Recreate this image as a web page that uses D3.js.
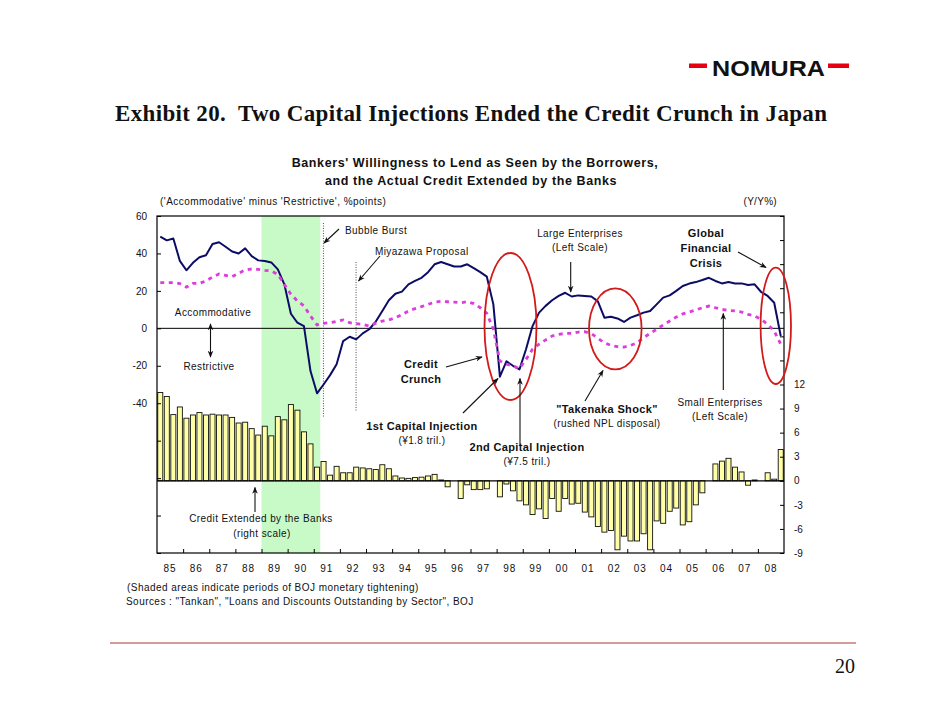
<!DOCTYPE html>
<html>
<head>
<meta charset="utf-8">
<script src="https://cdn.jsdelivr.net/npm/d3@7"></script>
<style>
  body { margin: 0; background: #fff; }
  svg text { font-family: 'Liberation Sans', Arial, sans-serif; fill: #111; }
  .serif { font-family: 'Liberation Serif', 'Times New Roman', serif !important; }
</style>
</head>
<body>
<svg id="chart" width="942" height="728"></svg>
<script>
const width = 942
const height = 728

// tick labels
const yearLabels = ['85', '86', '87', '88', '89', '90', '91', '92', '93', '94', '95', '96',
  '97', '98', '99', '00', '01', '02', '03', '04', '05', '06', '07', '08']
const leftTicks = [60, 40, 20, 0, -20, -40, -60, -80, -100, -120]
const rightTicks = [33, 30, 27, 24, 21, 18, 15, 12, 9, 6, 3, 0, -3, -6, -9]

// quarterly, 1985Q1 .. 2008Q4
// credit extended by the banks, Y/Y % (right scale)
const credit = [
  11.0, 10.5, 8.25, 9.2,   7.8, 8.2, 8.5, 8.2,   8.3, 8.2, 8.2, 7.9,
  7.2, 7.3, 6.5, 5.7,      6.8, 5.6, 8.0, 7.6,   9.5, 8.8, 6.1, 4.6,
  1.7, 2.4, 0.7, 1.8,      1.0, 1.0, 1.7, 1.6,   1.5, 1.4, 2.0, 1.5,
  0.6, 0.35, 0.3, 0.4,     0.45, 0.6, 0.8, 0.1,  -0.75, 0.0, -2.2, -0.5,
  -1.1, -1.1, -1.0, 0.0,   -2.0, -0.4, -1.25, -2.5,  -3.0, -4.2, -3.5, -4.7,
  -2.2, -3.8, -2.2, -2.9,  -2.8, -3.9, -4.5, -5.7,   -6.4, -6.2, -8.6, -6.9,
  -7.5, -7.5, -6.6, -8.6,  -5.0, -5.3, -3.8, -3.4,   -5.5, -5.1, -3.0, -1.5,
  0.0, 2.1, 2.45, 2.8,     1.7, 1.1, -0.55, 0.1,     0.0, 1.0, 0.2, 3.9
]
// lending attitude DI, large enterprises (left scale)
const large = [
  49, 47, 48, 36,        31, 35, 38, 39,        45, 46, 43.6, 41,
  40, 42.7, 38.6, 36.3,  36, 35.2, 31.5, 23.5,  7.8, 3, 1.2, -22.8,
  -34.7, -30, -25, -19.2, -6.8, -4.5, -5.9, -2.7, -0.5, 3.6, 9.3, 15,
  18.5, 19.6, 23.5, 25.3, 27, 30, 34.2, 35.4,  34.2, 33, 33, 34.2,
  32.2, 30, 27.6, 12.8,  -25.8, -17.6, -20, -21.9, -11.2, 1.2, 8.4, 12,
  15, 17.3, 19, 17,      17.6, 17.3, 17, 14.4,  5.7, 6.2, 5.3, 3.4,
  5.7, 7, 8.4, 9.3,      12.8, 16.4, 17.6, 20,  22.6, 23.9, 24.7, 25.8,
  27, 25.3, 24, 24.7,    24, 24, 23.1, 23.5,    19.4, 17.3, 13.7, -4.1
]
// lending attitude DI, small enterprises (left scale)
const small = [
  24.4, 24.4, 24.4, 23.9, 22, 24, 24, 25.3,     27.4, 29, 28.3, 27.6,
  29.4, 31.2, 31.7, 31.5, 31, 30.6, 28.8, 23.5, 18.2, 14.6, 12, 6.6,
  1.8, 2.7, 3, 3.7,       4.5, 3, 2.5, 2.1,     1.2, 2.7, 3.9, 4.5,
  5.7, 7.3, 9.3, 10.5,    11.6, 12.8, 14, 14.4, 14.2, 14, 13.7, 14.2,
  13.2, 11, 8, -0.5,      -17.4, -19.2, -20, -21.5, -16.6, -11.2, -8.5, -6.2,
  -4.1, -3.2, -2.7, -2.7, -2, -1.8, -2.8, -5.3, -7.7, -9.1, -9.8, -10,
  -9.1, -7.7, -5, -2.7,   -0.5, 1.8, 3.9, 6,    7.7, 8.7, 9.8, 11,
  11.9, 11, 10.1, 9.6,    9.3, 8.7, 7.5, 6.6,   4.8, 2.1, -1.4, -8.5
]
// BOJ tightening periods (years)
const tightening = [[1989.0, 1991.25]]
// event lines (years)
const events = [1991.37, 1992.62]

const plot = { left: 157, right: 784, top: 216, bottom: 553 }

const x = d3.scaleLinear().domain([1985, 2009]).range([plot.left, plot.right])
const yL = d3.scaleLinear().domain([-120, 60]).range([plot.bottom, plot.top])
const yR = d3.scaleLinear().domain([-9, 33]).range([plot.bottom, plot.top])
const qx = i => x(1985 + (i + 0.5) / 4)
const barW = (x(1985.25) - x(1985)) * 0.77

const svg = d3.select('#chart').attr('width', width).attr('height', height)

const defs = svg.append('defs')
defs.append('marker')
  .attr('id', 'arrow')
  .attr('viewBox', '0 0 10 10')
  .attr('refX', 9).attr('refY', 5)
  .attr('markerWidth', 7).attr('markerHeight', 7)
  .attr('markerUnits', 'userSpaceOnUse')
  .attr('orient', 'auto')
  .append('path')
  .attr('d', 'M0,1 L10,5 L0,9 L3,5 z')
  .attr('fill', '#111')

// header
svg.append('rect').attr('x', 689).attr('y', 63.5).attr('width', 18).attr('height', 4.5).attr('fill', '#e60012')
svg.append('rect').attr('x', 828).attr('y', 63.5).attr('width', 21).attr('height', 4.5).attr('fill', '#e60012')
svg.append('text')
  .attr('x', 712).attr('y', 76)
  .attr('textLength', 113).attr('lengthAdjust', 'spacingAndGlyphs')
  .style('font-size', '22px').style('font-weight', 'bold')
  .text('NOMURA')

svg.append('text')
  .attr('class', 'serif')
  .attr('x', 115).attr('y', 121)
  .attr('textLength', 712).attr('lengthAdjust', 'spacing')
  .style('font-size', '23px').style('font-weight', 'bold').style('white-space', 'pre')
  .text('Exhibit 20.  Two Capital Injections Ended the Credit Crunch in Japan')

svg.append('text')
  .attr('x', 475).attr('y', 167).attr('text-anchor', 'middle')
  .style('font-size', '12.5px').style('font-weight', 'bold').style('letter-spacing', '0.6px')
  .text("Bankers' Willingness to Lend as Seen by the Borrowers,")
svg.append('text')
  .attr('x', 471).attr('y', 185).attr('text-anchor', 'middle')
  .style('font-size', '12.5px').style('font-weight', 'bold').style('letter-spacing', '0.6px')
  .text('and the Actual Credit Extended by the Banks')

svg.append('text')
  .attr('x', 160).attr('y', 205)
  .style('font-size', '10px').style('letter-spacing', '0.45px')
  .text("('Accommodative' minus 'Restrictive', %points)")
svg.append('text')
  .attr('x', 777).attr('y', 205).attr('text-anchor', 'end')
  .style('font-size', '10px').style('letter-spacing', '0.3px')
  .text('(Y/Y%)')

// shaded tightening
svg.append('g').selectAll('rect')
  .data(tightening)
  .enter().append('rect')
  .attr('x', d => x(d[0]))
  .attr('width', d => x(d[1]) - x(d[0]))
  .attr('y', plot.top)
  .attr('height', plot.bottom - plot.top)
  .attr('fill', '#c8fac8')

// bars
svg.append('g').selectAll('rect')
  .data(credit)
  .enter().append('rect')
  .attr('x', (d, i) => qx(i) - barW / 2)
  .attr('width', barW)
  .attr('y', d => Math.min(yR(d), yR(0)))
  .attr('height', d => Math.abs(yR(d) - yR(0)))
  .attr('fill', '#ffffa6')
  .attr('stroke', '#111')
  .attr('stroke-width', 0.9)

// zero lines
svg.append('line')
  .attr('x1', plot.left).attr('x2', plot.right)
  .attr('y1', yL(0)).attr('y2', yL(0))
  .attr('stroke', '#000').attr('stroke-width', 1)
svg.append('line')
  .attr('x1', plot.left).attr('x2', plot.right)
  .attr('y1', yR(0)).attr('y2', yR(0))
  .attr('stroke', '#000').attr('stroke-width', 1.2)

// event lines
const eventTops = [223, 262]
const eventBottoms = [417, 411]
svg.append('g').selectAll('line')
  .data(events)
  .enter().append('line')
  .attr('x1', d => x(d)).attr('x2', d => x(d))
  .attr('y1', (d, i) => eventTops[i]).attr('y2', (d, i) => eventBottoms[i])
  .attr('stroke', '#222').attr('stroke-width', 0.8)
  .attr('stroke-dasharray', '1,1.5')

// lines
const line = d3.line().x((d, i) => qx(i)).y(d => yL(d))
svg.append('path')
  .datum(large)
  .attr('d', line)
  .attr('fill', 'none')
  .attr('stroke', '#0c0c66')
  .attr('stroke-width', 2)
  .attr('stroke-linejoin', 'round')
svg.append('path')
  .datum(small)
  .attr('d', line)
  .attr('fill', 'none')
  .attr('stroke', '#dd3ddd')
  .attr('stroke-width', 2.8)
  .attr('stroke-dasharray', '4,4.5')

// frame
svg.append('rect')
  .attr('x', plot.left).attr('y', plot.top)
  .attr('width', plot.right - plot.left).attr('height', plot.bottom - plot.top)
  .attr('fill', 'none').attr('stroke', '#000').attr('stroke-width', 1.2)

// axes
const leftAxis = svg.append('g')
  .attr('transform', `translate(${plot.left},0)`)
  .call(d3.axisLeft(yL).tickValues(leftTicks).tickSize(-4).tickPadding(10)
    .tickFormat(d => d >= -40 ? d : ''))
const rightAxis = svg.append('g')
  .attr('transform', `translate(${plot.right},0)`)
  .call(d3.axisRight(yR).tickValues(rightTicks).tickSize(-4).tickPadding(10)
    .tickFormat(d => d <= 12 ? d : ''))
const bottomAxis = svg.append('g')
  .attr('transform', `translate(0,${plot.bottom})`)
  .call(d3.axisBottom(x).tickValues(d3.range(1986, 2009)).tickSize(-4).tickFormat(''))

;[leftAxis, rightAxis, bottomAxis].forEach(g => {
  g.select('.domain').remove()
  g.selectAll('line').attr('stroke', '#000')
  g.selectAll('text')
    .style('font-family', "'Liberation Sans', Arial, sans-serif")
    .style('font-size', '10px').attr('fill', '#111')
})

svg.append('g').selectAll('text')
  .data(yearLabels)
  .enter().append('text')
  .attr('x', (d, i) => x(1985.5 + i))
  .attr('y', 572)
  .attr('text-anchor', 'middle')
  .style('font-size', '10px').style('letter-spacing', '1px')
  .text(d => d)

// circled episodes
const circles = [
  { cx: 510.5, cy: 326.5, rx: 26, ry: 73.5 },
  { cx: 615.3, cy: 328.8, rx: 26.3, ry: 40.5 },
  { cx: 775.8, cy: 325.8, rx: 15.2, ry: 58.2 }
]
svg.append('g').selectAll('ellipse')
  .data(circles)
  .enter().append('ellipse')
  .attr('cx', d => d.cx).attr('cy', d => d.cy)
  .attr('rx', d => d.rx).attr('ry', d => d.ry)
  .attr('fill', 'none').attr('stroke', '#d21a1a').attr('stroke-width', 1.8)

// annotations
const ann = svg.append('g').attr('class', 'annotations')

function note(tx, ty, str, opts = {}) {
  ann.append('text')
    .attr('x', tx).attr('y', ty)
    .attr('text-anchor', opts.anchor || 'middle')
    .style('font-size', opts.bold ? '11px' : '10px')
    .style('font-weight', opts.bold ? 'bold' : 'normal')
    .style('letter-spacing', opts.bold ? '0.35px' : '0.4px')
    .text(str)
}

function arrow(x1, y1, x2, y2) {
  ann.append('line')
    .attr('x1', x1).attr('y1', y1).attr('x2', x2).attr('y2', y2)
    .attr('stroke', '#111').attr('stroke-width', 1.1)
    .attr('marker-end', 'url(#arrow)')
}

note(345, 234, 'Bubble Burst', { anchor: 'start' })
arrow(339, 229, 324, 243)
note(375, 255, 'Miyazawa Proposal', { anchor: 'start' })
arrow(380, 256, 358.5, 281)

note(213, 316, 'Accommodative')
arrow(210.5, 340, 210.5, 324)
arrow(210.5, 340, 210.5, 357)
note(209, 370, 'Restrictive')

note(421, 368, 'Credit', { bold: true })
note(421, 383, 'Crunch', { bold: true })
arrow(446, 367, 482, 357)

note(422, 430, '1st Capital Injection', { bold: true })
note(422, 444, '(\u00a51.8 tril.)')
arrow(463, 413, 498, 378.5)

note(527, 451, '2nd Capital Injection', { bold: true })
note(527, 465, '(\u00a57.5 tril.)')
arrow(520, 445, 520, 378.5)

note(607, 413, '"Takenaka Shock"', { bold: true })
note(607, 427, '(rushed NPL disposal)')
arrow(585, 401, 603, 370.5)

note(580, 237, 'Large Enterprises')
note(580, 251, '(Left Scale)')
arrow(570.7, 262, 570.7, 292)

note(706, 237, 'Global', { bold: true })
note(706, 252, 'Financial', { bold: true })
note(706, 267, 'Crisis', { bold: true })
arrow(738, 252, 766, 267.5)

note(720, 406, 'Small Enterprises')
note(720, 420, '(Left Scale)')
arrow(723.3, 390, 723.3, 313.5)

note(261, 522, 'Credit Extended by the Banks')
note(262, 537, '(right scale)')
arrow(255, 512, 255, 487.5)

// footer
svg.append('text')
  .attr('x', 127).attr('y', 591)
  .style('font-size', '10px').style('letter-spacing', '0.45px')
  .text('(Shaded areas indicate periods of BOJ monetary tightening)')
svg.append('text')
  .attr('x', 126).attr('y', 605)
  .style('font-size', '10px').style('letter-spacing', '0.45px')
  .text('Sources : "Tankan", "Loans and Discounts Outstanding by Sector", BOJ')

svg.append('line')
  .attr('x1', 110).attr('x2', 856)
  .attr('y1', 643).attr('y2', 643)
  .attr('stroke', '#a83a3a').attr('stroke-width', 1.2)

svg.append('text')
  .attr('class', 'serif')
  .attr('x', 845).attr('y', 673).attr('text-anchor', 'middle')
  .style('font-size', '20px')
  .text('20')
</script>
</body>
</html>
